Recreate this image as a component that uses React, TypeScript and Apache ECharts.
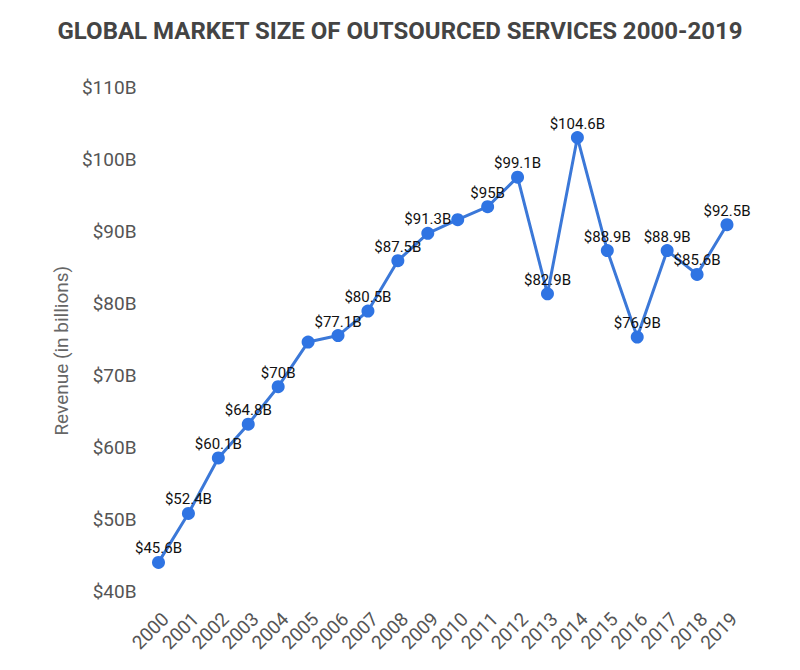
import React, { useEffect, useRef } from "react";
import * as echarts from "echarts";

const years = ["2000","2001","2002","2003","2004","2005","2006","2007","2008","2009","2010","2011","2012","2013","2014","2015","2016","2017","2018","2019"];
const revenue = [45.6, 52.4, 60.1, 64.8, 70, 76.2, 77.1, 80.5, 87.5, 91.3, 93.2, 95, 99.1, 82.9, 104.6, 88.9, 76.9, 88.9, 85.6, 92.5];
const hiddenLabelYears = ["2005", "2010"];
const yMin = 40;
const yMax = 110;
const yStep = 10;

export default function App() {
  const ref = useRef<HTMLDivElement>(null);
  useEffect(() => {
    document.body.style.margin = "0";
    const chart = echarts.init(ref.current!, null, { renderer: "svg" });
    const fmt = (v: number) => "$" + v + "B";
    chart.setOption({
      animation: false,
      backgroundColor: "#ffffff",
      title: {
        text: "GLOBAL MARKET SIZE OF OUTSOURCED SERVICES 2000-2019",
        left: "center",
        top: 14,
        textStyle: { fontFamily: "Roboto", fontWeight: "bold", fontSize: 24, color: "#444444" },
      },
      grid: { left: 158.5, right: 73, top: 98.7, bottom: 67.3 },
      xAxis: {
        type: "category",
        data: years,
        boundaryGap: false,
        axisLine: { show: false },
        axisTick: { show: false },
        axisLabel: {
          rotate: 45,
          interval: 0,
          margin: 6,
          verticalAlign: "top",
          lineHeight: 20,
          fontFamily: "Roboto",
          fontSize: 19,
          color: "#555555",
        },
      },
      yAxis: {
        type: "value",
        min: yMin,
        max: yMax,
        interval: yStep,
        name: "Revenue (in billions)",
        nameLocation: "middle",
        nameGap: 86,
        nameRotate: 90,
        nameTextStyle: { fontFamily: "Roboto", fontSize: 19, color: "#666666" },
        splitLine: { show: false },
        axisLine: { show: false },
        axisTick: { show: false },
        axisLabel: {
          formatter: (v: number) => fmt(v),
          margin: 22,
          verticalAlign: "bottom",
          padding: [0, 0, 2, 0],
          fontFamily: "Roboto",
          fontSize: 19,
          color: "#555555",
        },
      },
      series: [
        {
          type: "line",
          data: revenue.map((v, i) => ({
            value: v,
            label: { show: !hiddenLabelYears.includes(years[i]) },
          })),
          symbol: "circle",
          symbolSize: 13,
          lineStyle: { color: "#3b78d8", width: 3 },
          itemStyle: { color: "#2f74e3" },
          label: {
            show: true,
            position: "top",
            distance: 0,
            formatter: (p: any) => fmt(p.value),
            fontFamily: "Roboto",
            fontSize: 15,
            color: "#111111",
          },
        },
      ],
    });
    return () => chart.dispose();
  }, []);
  return <div ref={ref} style={{ width: 800, height: 670 }} />;
}
